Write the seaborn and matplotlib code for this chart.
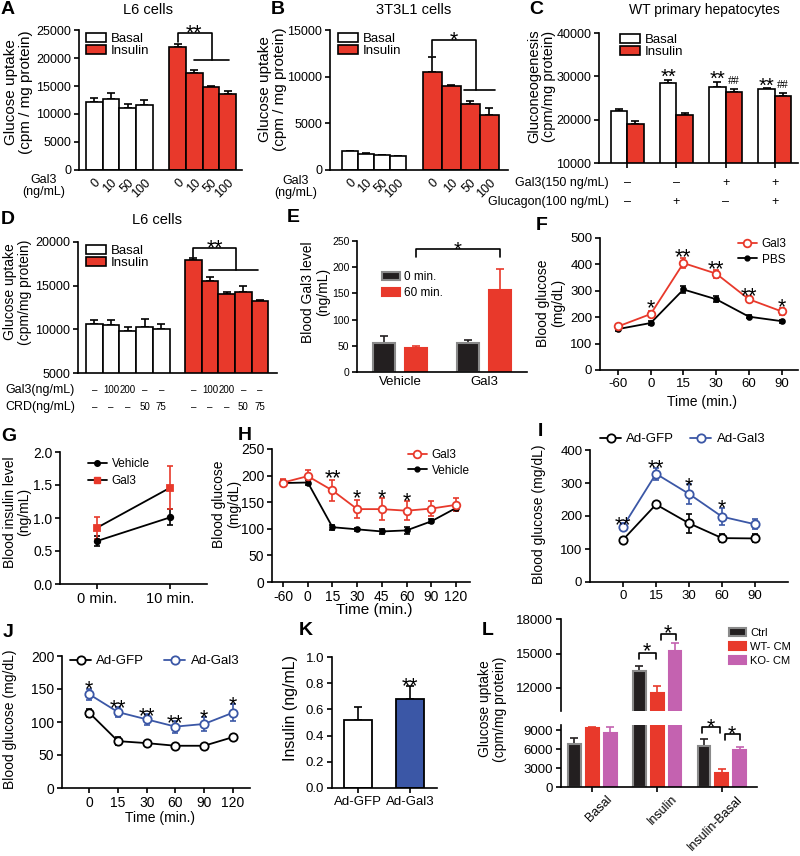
import numpy as np
import pandas as pd
import matplotlib.pyplot as plt
import matplotlib.transforms as mtransforms
from matplotlib.patches import Patch
from matplotlib.lines import Line2D
import seaborn as sns

# ---- values ----
# A: L6 cells, glucose uptake
A_doses = ['0', '10', '50', '100']
A_basal = [12200, 12700, 11100, 11600]
A_basal_sem = [600, 1100, 600, 900]
A_insulin = [22000, 17400, 14800, 13600]
A_insulin_sem = [500, 500, 150, 500]

# B: 3T3L1 cells
B_doses = ['0', '10', '50', '100']
B_basal = [2000, 1750, 1600, 1450]
B_basal_sem = [0, 60, 0, 0]
B_insulin = [10500, 9000, 7100, 5900]
B_insulin_sem = [1600, 100, 300, 700]

# C: WT primary hepatocytes
C_gal3 = ['–', '–', '+', '+']
C_glucagon = ['–', '+', '–', '+']
C_basal = [22000, 28500, 27600, 27000]
C_basal_sem = [500, 600, 1200, 400]
C_insulin = [19000, 21000, 26500, 25500]
C_insulin_sem = [600, 600, 500, 700]

# D: L6 cells with CRD
D_gal3 = ['–', '100', '200', '–', '–']
D_crd = ['–', '–', '–', '50', '75']
D_basal = [10600, 10500, 9800, 10300, 10000]
D_basal_sem = [500, 600, 500, 900, 600]
D_insulin = [17900, 15500, 14000, 14300, 13200]
D_insulin_sem = [300, 500, 300, 700, 150]

# E: blood Gal3
E_groups = ['Vehicle', 'Gal3']
E_times = ['0 min.', '60 min.']
E_0 = [55, 56]
E_0_sem = [13, 6]
E_60 = [45, 156]
E_60_sem = [5, 40]

# F: GTT
F_time = ['-60', '0', '15', '30', '60', '90']
F_gal3 = [165, 212, 405, 365, 268, 222]
F_gal3_sem = [8, 12, 18, 15, 12, 12]
F_pbs = [155, 178, 305, 268, 202, 185]
F_pbs_sem = [6, 8, 12, 12, 6, 6]

# G: blood insulin
G_time = ['0 min.', '10 min.']
G_vehicle = [0.65, 1.01]
G_vehicle_sem = [0.08, 0.12]
G_gal3 = [0.85, 1.46]
G_gal3_sem = [0.17, 0.33]

# H: ITT
H_time = ['-60', '0', '15', '30', '45', '60', '90', '120']
H_gal3 = [187, 199, 172, 137, 137, 134, 138, 145]
H_gal3_sem = [6, 11, 20, 17, 20, 18, 14, 12]
H_vehicle = [186, 187, 103, 99, 95, 97, 114, 139]
H_vehicle_sem = [5, 4, 5, 3, 4, 6, 4, 6]

# I: Ad GTT
I_time = ['0', '15', '30', '60', '90']
I_gfp = [128, 235, 178, 133, 132]
I_gfp_sem = [5, 8, 28, 12, 12]
I_gal3 = [168, 328, 267, 198, 175]
I_gal3_sem = [10, 18, 30, 25, 15]

# J: Ad ITT
J_time = ['0', '15', '30', '60', '90', '120']
J_gfp = [114, 71, 68, 64, 64, 77]
J_gfp_sem = [6, 6, 3, 3, 3, 4]
J_gal3 = [142, 115, 104, 93, 97, 114]
J_gal3_sem = [8, 8, 8, 9, 10, 13]

# K: insulin
K_groups = ['Ad-GFP', 'Ad-Gal3']
K_vals = [0.52, 0.68]
K_sem = [0.10, 0.10]

# L: conditioned medium
L_cond = ['Basal', 'Insulin', 'Insulin-Basal']
L_treat = ['Ctrl', 'WT- CM', 'KO- CM']
L_ctrl = [6800, 13500, 6500]
L_ctrl_sem = [1000, 400, 1100]
L_wt = [9300, 11600, 2200]
L_wt_sem = [250, 600, 650]
L_ko = [8500, 15200, 5800]
L_ko_sem = [1000, 750, 450]

RED = '#e8392b'
BLUE = '#3b57a6'
PINK = '#c462b0'
DARK = '#231f20'
GRAY = '#8a8a8a'

sns.set_theme(style='ticks')
plt.rcParams['font.family'] = ['Liberation Sans', 'DejaVu Sans']
plt.rcParams.update({'axes.linewidth': 1.2, 'axes.edgecolor': 'black',
                     'xtick.color': 'black', 'ytick.color': 'black',
                     'text.color': 'black', 'axes.labelcolor': 'black'})

W, H = 800, 856
fig = plt.figure(figsize=(W / 100, H / 100), dpi=100)
PX = mtransforms.Affine2D().scale(1 / W, -1 / H).translate(0, 1) + fig.transFigure


def new_ax(l, t, r, b):
    return fig.add_axes([l / W, 1 - b / H, (r - l) / W, (b - t) / H])


def finish(ax, fs):
    sns.despine(ax=ax)
    ax.set_xlabel('')
    ax.set_ylabel('')
    ax.tick_params(labelsize=fs, length=3.5, width=1.2, pad=2)


def ylab(ax, text, fs, xr, yc, ls=1.1):
    ax.set_ylabel(text, fontsize=fs, linespacing=ls)
    ax.yaxis.set_label_coords(xr, yc, transform=PX)


def ftext(x, y, s, **kw):
    fig.text(x, y, s, transform=PX, **kw)


def letter(x, y, s):
    ftext(x, y, s, fontsize=14, fontweight='bold', ha='left', va='center')


def star(ax, x, y, s, fs=15.5, color='black', family=None):
    off = -0.58 * fs if '*' in s else -0.35 * fs
    kw = {'family': family} if family else {}
    ax.annotate(s, (x, y), xytext=(0, off), textcoords='offset points', ha='center',
                va='baseline', fontsize=fs, color=color, annotation_clip=False, **kw)


def bracket(ax, xs, ys):
    ax.plot(xs, ys, color='black', lw=1.2, clip_on=False)


def up_err(ax, x, y, e, color='black'):
    ax.errorbar(x, y, yerr=[np.zeros(len(e)), e], fmt='none', ecolor=color,
                elinewidth=1.2, capsize=3, capthick=1.2, zorder=0.9)


def bar_centers(cont):
    return [p.get_x() + p.get_width() / 2 for p in cont], [p.get_height() for p in cont]


def series(ax, x, y, e, color, marker, ms, mfc, line_color=None, ecolor=None):
    sns.lineplot(x=x, y=y, ax=ax, color=line_color or color, marker=marker, markersize=ms,
                 markerfacecolor=mfc, markeredgecolor=color, markeredgewidth=1.3,
                 linewidth=1.3, errorbar=None, zorder=3)
    ax.errorbar(x, y, yerr=e, fmt='none', ecolor=ecolor or color, elinewidth=1.2,
                capsize=2.5, capthick=1.2, zorder=2)


def patch_legend(ax, handles, anchor, fs, spacing=0.0):
    ax.legend(handles=handles, loc='upper left', bbox_to_anchor=anchor, bbox_transform=PX,
              frameon=False, fontsize=fs, handlelength=1.5, handleheight=0.7,
              handletextpad=0.4, labelspacing=spacing, borderpad=0, borderaxespad=0)


def line_legend(ax, handles, anchor, fs, ncol=1, spacing=0.3, colsp=1.0):
    ax.legend(handles=handles, loc='upper left', bbox_to_anchor=anchor, bbox_transform=PX,
              frameon=False, fontsize=fs, handlelength=1.6, handletextpad=0.4, ncol=ncol,
              labelspacing=spacing, columnspacing=colsp, borderpad=0, borderaxespad=0)


def bar_pair_panel(ax, xb, xi, basal, bsem, ins, isem):
    sns.barplot(x=xb, y=basal, native_scale=True, orient='x', width=1, color='white',
                saturation=1, edgecolor='black', linewidth=1.2, errorbar=None, ax=ax)
    sns.barplot(x=xi, y=ins, native_scale=True, orient='x', width=1, color=RED,
                saturation=1, edgecolor='black', linewidth=1.2, errorbar=None, ax=ax)
    up_err(ax, xb, basal, bsem)
    up_err(ax, xi, ins, isem)


def shift_labels(ax, dx_px):
    for lbl in ax.get_xticklabels():
        lbl.set_transform(lbl.get_transform() +
                          mtransforms.ScaledTranslation(dx_px / 100, 0, fig.dpi_scale_trans))


basal_ins = [Patch(facecolor='white', edgecolor='black', lw=1.2, label='Basal'),
             Patch(facecolor=RED, edgecolor='black', lw=1.2, label='Insulin')]

# ---------------- A ----------------
axA = new_ax(79, 30, 242, 170)
xb = np.arange(4)
xi = np.arange(4) + 5.0
bar_pair_panel(axA, xb, xi, A_basal, A_basal_sem, A_insulin, A_insulin_sem)
finish(axA, 9)
axA.set_xlim(-0.92, 8.86)
axA.set_ylim(0, 25000)
axA.set_yticks(range(0, 25001, 5000))
axA.set_xticks(np.r_[xb, xi], A_doses * 2, rotation=45, ha='right', rotation_mode='anchor')
axA.tick_params(axis='x', length=0, pad=5)
bracket(axA, [5, 5, 7.04, 7.04], [22800, 24400, 24400, 19700])
bracket(axA, [6.0, 8.1], [19700, 19700])
star(axA, 6.0, 25600, '**')
patch_legend(axA, basal_ins, (86, 33), 9.5)
ylab(axA, 'Glucose uptake\n(cpm / mg protein)', 11, 33, 92)
ftext(148, 10, 'L6 cells', fontsize=10.5, ha='center', va='center')
ftext(44, 186, 'Gal3\n(ng/mL)', fontsize=9, ha='center', va='center', linespacing=1.0)
letter(1, 10, 'A')

# ---------------- B ----------------
axB = new_ax(330, 30, 508, 170)
xbB = np.arange(4)
xiB = 5.16 + np.arange(4) * 1.1875
bar_pair_panel(axB, xbB, xiB, B_basal, B_basal_sem, B_insulin, B_insulin_sem)
finish(axB, 9)
axB.set_xlim(-1.25, 9.9)
axB.set_ylim(0, 15000)
axB.set_yticks(range(0, 15001, 5000))
axB.set_xticks(np.r_[xbB, xiB], B_doses * 2, rotation=45, ha='right', rotation_mode='anchor')
axB.tick_params(axis='x', length=0, pad=5)
bracket(axB, [xiB[0], xiB[0], 7.92, 7.92], [12200, 13950, 13950, 8580])
bracket(axB, [7.13, 9.06], [8580, 8580])
star(axB, 6.5, 14600, '*')
patch_legend(axB, basal_ins, (338, 33), 9.5)
ylab(axB, 'Glucose uptake\n(cpm / mg protein)', 11, 287, 89)
ftext(414, 10, '3T3L1 cells', fontsize=10.5, ha='center', va='center')
ftext(296, 187, 'Gal3\n(ng/mL)', fontsize=9, ha='center', va='center', linespacing=1.0)
letter(271, 10, 'B')

# ---------------- C ----------------
axC = new_ax(599, 33, 798, 163)
C_cond = [g + c for g, c in zip(C_gal3, C_glucagon)]
dfC = pd.DataFrame({'cond': C_cond * 2, 'treat': ['Basal'] * 4 + ['Insulin'] * 4,
                    'val': C_basal + C_insulin})
sns.barplot(data=dfC, x='cond', y='val', hue='treat', palette=['white', RED], width=0.67,
            gap=0, saturation=1, edgecolor='black', linewidth=1.2, errorbar=None,
            legend=False, ax=axC)
for cont, sem in zip(axC.containers, [C_basal_sem, C_insulin_sem]):
    cx, cy = bar_centers(cont)
    up_err(axC, cx, cy, sem)
finish(axC, 9)
axC.set_xlim(-0.57, 3.47)
axC.set_ylim(10000, 40000)
axC.set_yticks(range(10000, 40001, 10000))
axC.set_xticks(range(4), [''] * 4)
bx, _ = bar_centers(axC.containers[0])
ix, _ = bar_centers(axC.containers[1])
for x, y in zip(bx[1:], [31150, 30770, 29080]):
    star(axC, x, y, '**', fs=14.5)
for x, y in zip(ix[2:], [29080, 28310]):
    star(axC, x, y, '##', fs=8.5, family='Liberation Serif')
trC = mtransforms.blended_transform_factory(axC.transData, PX)
for k in range(4):
    axC.text(k, 183, C_gal3[k], transform=trC, ha='center', va='center', fontsize=9)
    axC.text(k, 202, C_glucagon[k], transform=trC, ha='center', va='center', fontsize=9)
ftext(609, 183, 'Gal3(150 ng/mL)', fontsize=9, ha='right', va='center')
ftext(609, 202, 'Glucagon(100 ng/mL)', fontsize=9, ha='right', va='center')
patch_legend(axC, basal_ins, (620, 34), 9.5)
ylab(axC, 'Gluconeogenesis\n(cpm/mg protein)', 10.5, 556, 86)
ftext(704, 10, 'WT primary hepatocytes', fontsize=10, ha='center', va='center')
letter(529, 10, 'C')

# ---------------- D ----------------
axD = new_ax(78, 242, 277, 373)
xbD = np.arange(5)
xiD = np.arange(5) + 5.92
bar_pair_panel(axD, xbD, xiD, D_basal, D_basal_sem, D_insulin, D_insulin_sem)
finish(axD, 9)
axD.set_xlim(-0.98, 10.93)
axD.set_ylim(5000, 20000)
axD.set_yticks(range(5000, 20001, 5000))
axD.set_xticks([])
bracket(axD, [xiD[0], xiD[0], 8.48, 8.48], [18300, 19360, 19360, 16850])
bracket(axD, [6.86, 9.8], [16850, 16850])
star(axD, 7.2, 20000, '**')
trD = mtransforms.blended_transform_factory(axD.transData, PX)
for x, g, c in zip(np.r_[xbD, xiD], D_gal3 * 2, D_crd * 2):
    axD.text(x, 390, g, transform=trD, ha='center', va='center', fontsize=7)
    axD.text(x, 407, c, transform=trD, ha='center', va='center', fontsize=7)
ftext(75, 390, 'Gal3(ng/mL)', fontsize=9, ha='right', va='center')
ftext(75, 407, 'CRD(ng/mL)', fontsize=9, ha='right', va='center')
patch_legend(axD, basal_ins, (86, 245), 9.5)
ylab(axD, 'Glucose uptake\n(cpm/mg protein)', 10, 32, 292)
ftext(157, 220, 'L6 cells', fontsize=10.5, ha='center', va='center')
letter(1, 219, 'D')

# ---------------- E ----------------
axE = new_ax(357, 241, 527, 372)
dfE = pd.DataFrame({'group': E_groups * 2, 'time': [E_times[0]] * 2 + [E_times[1]] * 2,
                    'val': E_0 + E_60})
sns.barplot(data=dfE, x='group', y='val', hue='time', palette=[DARK, RED], width=0.75,
            gap=0.3, saturation=1, linewidth=1.5, errorbar=None, legend=False, ax=axE)
for cont, sem, ec, errc in zip(axE.containers, [E_0_sem, E_60_sem], [GRAY, RED], [DARK, RED]):
    for p in cont:
        p.set_edgecolor(ec)
    cx, cy = bar_centers(cont)
    up_err(axE, cx, cy, sem, errc)
finish(axE, 7.5)
axE.set_xlim(-0.51, 1.51)
axE.set_ylim(0, 250)
axE.set_yticks(range(0, 251, 50))
axE.set_xticks([0, 1], E_groups)
axE.tick_params(axis='x', labelsize=9.5, length=0, pad=3)
rx, _ = bar_centers(axE.containers[1])
bracket(axE, [rx[0], rx[0], rx[1], rx[1]], [220, 235, 235, 220])
star(axE, 0.69, 244, '*', fs=14.5)
patch_legend(axE, [Patch(facecolor=DARK, edgecolor=GRAY, lw=1.5, label=E_times[0]),
                   Patch(facecolor=RED, edgecolor=RED, lw=1.5, label=E_times[1])],
             (382, 271), 8.5, spacing=0.35)
ylab(axE, 'Blood Gal3 level\n(ng/mL)', 10, 330, 292)
letter(287, 218, 'E')

# ---------------- F ----------------
axF = new_ax(600, 238, 798, 370)
xF = np.arange(len(F_time))
series(axF, xF, F_pbs, F_pbs_sem, 'black', 'o', 3.5, 'black')
series(axF, xF, F_gal3, F_gal3_sem, RED, 'o', 5.5, 'white')
finish(axF, 9.5)
axF.set_xlim(-0.55, 5.5)
axF.set_ylim(0, 500)
axF.set_yticks(range(0, 501, 100))
axF.set_xticks(xF, F_time)
for x, y, s in zip([1, 2, 3, 4, 5], [259, 451, 405, 306, 261], ['*', '**', '**', '**', '*']):
    star(axF, x, y, s)
line_legend(axF, [Line2D([], [], color=RED, marker='o', ms=5.5, mfc='white', mew=1.3, lw=1.3, label='Gal3'),
                  Line2D([], [], color='black', marker='o', ms=3.5, lw=1.3, label='PBS')],
            (738, 238), 8.5, spacing=0.3)
ylab(axF, 'Blood glucose\n(mg/dL)', 10, 565, 303)
axF.set_xlabel('Time (min.)', fontsize=10)
axF.xaxis.set_label_coords(702, 395, transform=PX)
letter(536, 226, 'F')

# ---------------- G ----------------
axG = new_ax(60, 452, 207, 584)
xG = np.arange(2)
series(axG, xG, G_vehicle, G_vehicle_sem, 'black', 'o', 4, 'black')
series(axG, xG, G_gal3, G_gal3_sem, RED, 's', 4, RED, line_color='black')
finish(axG, 10)
axG.set_xlim(-0.5, 1.5)
axG.set_ylim(0, 2)
axG.set_yticks([0, 0.5, 1, 1.5, 2], ['0.0', '0.5', '1.0', '1.5', '2.0'])
axG.set_xticks(xG, G_time)
axG.tick_params(axis='x', labelsize=10.5)
line_legend(axG, [Line2D([], [], color='black', marker='o', ms=4, lw=1.3, label='Vehicle'),
                  Line2D([], [], color='black', marker='s', ms=4, mfc=RED, mec=RED, lw=1.3, label='Gal3')],
            (88, 458), 8.5, spacing=0.45)
ylab(axG, 'Blood insulin level\n(ng/mL)', 10, 31, 512, ls=1.0)
letter(1, 437, 'G')

# ---------------- H ----------------
axH = new_ax(272, 449, 470, 582)
xH = np.arange(len(H_time))
series(axH, xH, H_vehicle, H_vehicle_sem, 'black', 'o', 3.5, 'black')
series(axH, xH, H_gal3, H_gal3_sem, RED, 'o', 5.5, 'white')
finish(axH, 10)
axH.set_xlim(-0.45, 7.57)
axH.set_ylim(0, 250)
axH.set_yticks(range(0, 251, 50))
axH.set_xticks(xH, H_time)
for x, y, s in zip([2, 3, 4, 5], [207, 170, 170, 164], ['**', '*', '*', '*']):
    star(axH, x, y, s)
line_legend(axH, [Line2D([], [], color=RED, marker='o', ms=5.5, mfc='white', mew=1.3, lw=1.3, label='Gal3'),
                  Line2D([], [], color='black', marker='o', ms=3.5, lw=1.3, label='Vehicle')],
            (408, 449), 8.5, spacing=0.3)
ylab(axH, 'Blood glucose\n(mg/dL)', 10, 241, 504, ls=1.05)
axH.set_xlabel('Time (min.)', fontsize=11)
axH.xaxis.set_label_coords(374, 603, transform=PX)
letter(238, 436, 'H')

# ---------------- I ----------------
axI = new_ax(590, 450, 788, 582)
xI = np.arange(len(I_time))
series(axI, xI, I_gfp, I_gfp_sem, 'black', 'o', 6, 'white')
series(axI, xI, I_gal3, I_gal3_sem, BLUE, 'o', 6, 'white')
finish(axI, 9.5)
axI.set_xlim(-1, 5)
axI.set_ylim(0, 400)
axI.set_yticks(range(0, 401, 100))
axI.set_xticks(xI, I_time)
for x, y, s in zip([0, 1, 2, 3], [193, 365, 309, 243], ['**', '**', '*', '*']):
    star(axI, x, y, s)
line_legend(axI, [Line2D([], [], color='black', marker='o', ms=6, mfc='white', mew=1.3, lw=1.3, label='Ad-GFP'),
                  Line2D([], [], color=BLUE, marker='o', ms=6, mfc='white', mew=1.3, lw=1.3, label='Ad-Gal3')],
            (600, 433), 9.5, ncol=2, colsp=1.2)
ylab(axI, 'Blood glucose (mg/dL)', 10, 546, 514)
letter(538, 432, 'I')

# ---------------- J ----------------
axJ = new_ax(62, 656, 250, 788)
xJ = np.arange(len(J_time))
series(axJ, xJ, J_gfp, J_gfp_sem, 'black', 'o', 6, 'white')
series(axJ, xJ, J_gal3, J_gal3_sem, BLUE, 'o', 6, 'white')
finish(axJ, 10)
axJ.set_xlim(-0.95, 5.6)
axJ.set_ylim(0, 200)
axJ.set_yticks(range(0, 201, 50))
axJ.set_xticks(xJ, J_time)
for x, y, s in zip(xJ, [159, 131, 119, 108, 116, 135], ['*', '**', '**', '**', '*', '*']):
    star(axJ, x, y, s)
line_legend(axJ, [Line2D([], [], color='black', marker='o', ms=6, mfc='white', mew=1.3, lw=1.3, label='Ad-GFP'),
                  Line2D([], [], color=BLUE, marker='o', ms=6, mfc='white', mew=1.3, lw=1.3, label='Ad-Gal3')],
            (70, 655), 9.5, ncol=2, colsp=1.5)
ylab(axJ, 'Blood glucose (mg/dL)', 10, 17, 719)
axJ.set_xlabel('Time (min.)', fontsize=10)
axJ.xaxis.set_label_coords(160, 811, transform=PX)
letter(3, 633, 'J')

# ---------------- K ----------------
axK = new_ax(332, 657, 437, 788)
sns.barplot(x=K_groups, y=K_vals, hue=K_groups, palette=['white', BLUE], width=0.54,
            saturation=1, edgecolor='black', linewidth=1.3, errorbar=None, legend=False, ax=axK)
up_err(axK, [0, 1], K_vals, K_sem)
finish(axK, 9.5)
axK.set_xlim(-0.5, 1.52)
axK.set_ylim(0, 1)
axK.set_yticks(np.linspace(0, 1, 6), ['0.0', '0.2', '0.4', '0.6', '0.8', '1.0'])
axK.set_xticks([0, 1], K_groups)
star(axK, 1, 0.83, '**')
ylab(axK, 'Insulin (ng/mL)', 11.5, 298, 708)
letter(299, 631, 'K')

# ---------------- L ----------------
axLu = new_ax(561, 619, 757, 711)
axLl = new_ax(561, 725, 757, 787)
dfL = pd.DataFrame({'cond': L_cond * 3, 'treat': np.repeat(L_treat, 3),
                    'val': L_ctrl + L_wt + L_ko})
for ax in (axLu, axLl):
    sns.barplot(data=dfL, x='cond', y='val', hue='treat', palette=[DARK, RED, PINK],
                width=0.83, gap=0.28, saturation=1, linewidth=1.5, errorbar=None,
                legend=False, ax=ax)
    for cont, sem, ec, errc in zip(ax.containers, [L_ctrl_sem, L_wt_sem, L_ko_sem],
                                   [GRAY, RED, PINK], [DARK, RED, PINK]):
        for p in cont:
            p.set_edgecolor(ec)
        cx, cy = bar_centers(cont)
        up_err(ax, cx, cy, sem, errc)
    finish(ax, 9.5)
    ax.set_xlim(-0.48, 2.54)
axLu.set_ylim(10000, 18000)
axLu.set_yticks([12000, 15000, 18000])
axLu.spines['bottom'].set_visible(False)
axLu.set_xticks([])
axLl.set_ylim(0, 9800)
axLl.set_yticks([0, 3000, 6000, 9000])
axLl.set_xticks(range(3), L_cond, rotation=45, ha='right', rotation_mode='anchor')
axLl.tick_params(axis='x', labelsize=9, pad=1)
shift_labels(axLl, 14)
bracket(axLu, [0.72, 0.72, 0.985, 0.985], [14500, 15016, 15016, 14500])
star(axLu, 0.85, 15800, '*')
bracket(axLu, [1.057, 1.057, 1.29, 1.29], [16170, 16700, 16700, 16170])
star(axLu, 1.17, 17330, '*')
bracket(axLl, [1.70, 1.70, 1.97, 1.97], [8580, 9430, 9430, 8580])
star(axLl, 1.835, 10430, '*')
bracket(axLl, [2.04, 2.04, 2.28, 2.28], [7430, 8375, 8375, 7430])
star(axLl, 2.16, 9430, '*')
patch_legend(axLu, [Patch(facecolor=DARK, edgecolor=GRAY, lw=1.5, label=L_treat[0]),
                    Patch(facecolor=RED, edgecolor=RED, lw=1.5, label=L_treat[1]),
                    Patch(facecolor=PINK, edgecolor=PINK, lw=1.5, label=L_treat[2])],
             (729, 628), 8, spacing=0.35)
ylab(axLu, 'Glucose uptake\n(cpm/mg protein)', 10, 507, 709)
letter(482, 631, 'L')

fig.savefig('out.png', dpi=100)
